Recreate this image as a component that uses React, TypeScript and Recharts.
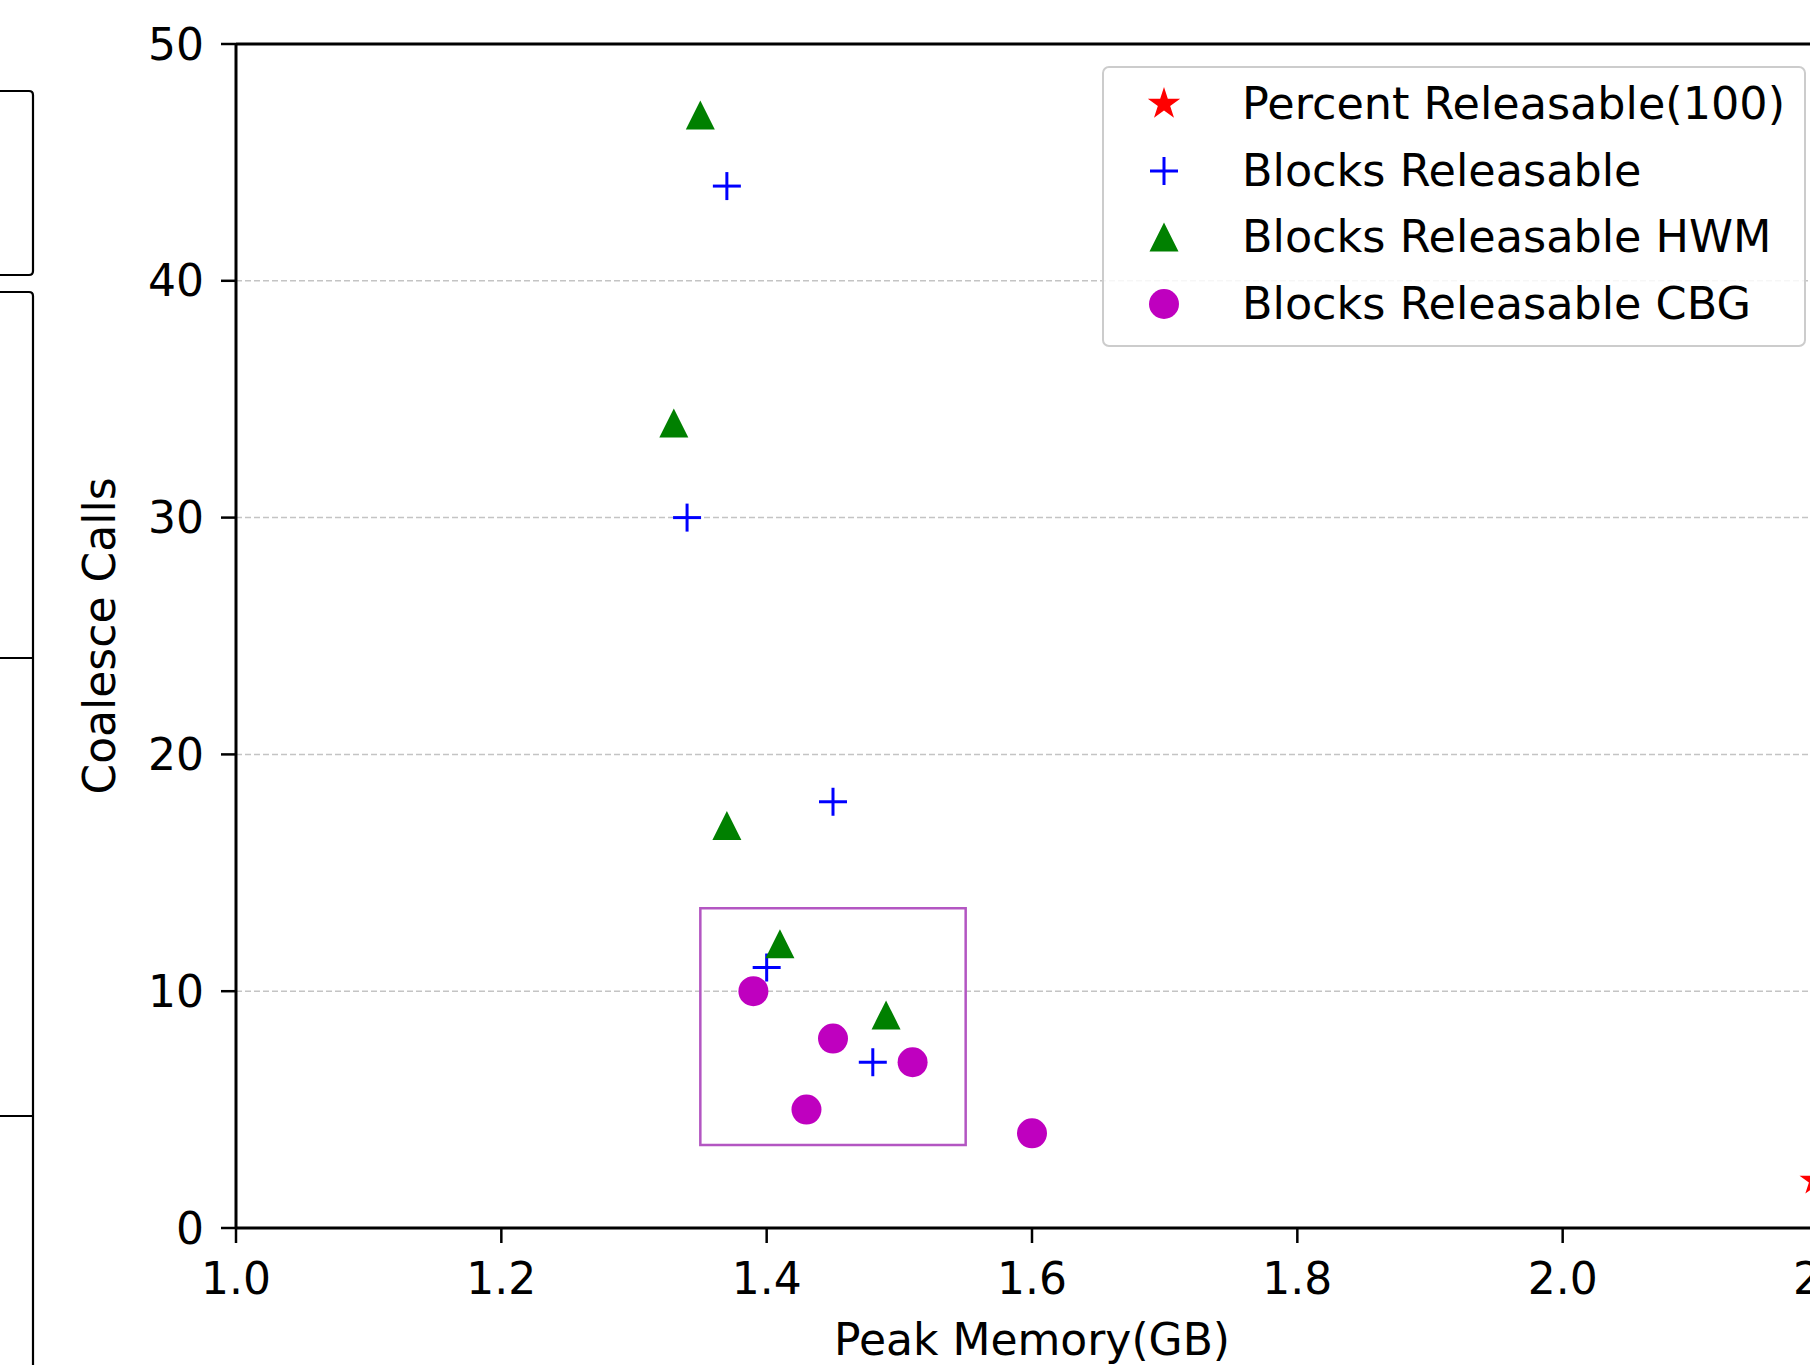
import {
    ScatterChart, Scatter, XAxis, YAxis, CartesianGrid,
    ReferenceArea, ReferenceLine,
} from 'recharts'

// peak memory (GB) / coalesce calls per series
const pctMem = [2.19]
const pctCalls = [2]
const blocksMem = [1.37, 1.34, 1.45, 1.40, 1.48]
const blocksCalls = [44, 30, 18, 11, 7]
const hwmMem = [1.35, 1.33, 1.37, 1.41, 1.49]
const hwmCalls = [47, 34, 17, 12, 9]
const cbgMem = [1.39, 1.45, 1.51, 1.43, 1.60]
const cbgCalls = [10, 8, 7, 5, 4]

const xTicks = [1.0, 1.2, 1.4, 1.6, 1.8, 2.0, 2.2]
const yTicks = [0, 10, 20, 30, 40, 50]

// highlighted cluster
const boxMem = [1.35, 1.55]
const boxCalls = [3.5, 13.5]

const FONT = '"DejaVu Sans", sans-serif'
const FS = 44

const zip = (xs: number[], ys: number[]) => xs.map((x, i) => ({ mem: x, calls: ys[i] }))

type MarkerProps = { cx?: number; cy?: number }

function Star({ cx = 0, cy = 0, r = 16, color = '#ff0000' }: MarkerProps & { r?: number; color?: string }) {
    const pts: string[] = []
    for (let i = 0; i < 10; i++) {
        const rad = i % 2 === 0 ? r : r * 0.382
        const a = -Math.PI / 2 + (i * Math.PI) / 5
        pts.push(`${cx + rad * Math.cos(a)},${cy + rad * Math.sin(a)}`)
    }
    return <polygon points={pts.join(' ')} fill={color} />
}

function Plus({ cx = 0, cy = 0 }: MarkerProps) {
    const h = 14
    return (
        <g stroke="#0000ff" strokeWidth={3}>
            <line x1={cx - h} y1={cy} x2={cx + h} y2={cy} />
            <line x1={cx} y1={cy - h} x2={cx} y2={cy + h} />
        </g>
    )
}

function Tri({ cx = 0, cy = 0 }: MarkerProps) {
    const h = 14.5
    return <polygon points={`${cx},${cy - h} ${cx - h},${cy + h} ${cx + h},${cy + h}`} fill="#008000" />
}

function Dot({ cx = 0, cy = 0 }: MarkerProps) {
    return <circle cx={cx} cy={cy} r={15} fill="#bf00bf" />
}

const SERIES = [
    { name: 'Percent Releasable(100)', icon: (x: number, y: number) => <Star cx={x} cy={y} r={17} /> },
    { name: 'Blocks Releasable', icon: (x: number, y: number) => <Plus cx={x} cy={y} /> },
    { name: 'Blocks Releasable HWM', icon: (x: number, y: number) => <Tri cx={x} cy={y} /> },
    { name: 'Blocks Releasable CBG', icon: (x: number, y: number) => <Dot cx={x} cy={y} /> },
]

function LegendBox() {
    return (
        <div style={{
            position: 'absolute', left: 1102, top: 66, width: 700, height: 274,
            border: '2px solid #cccccc', borderRadius: 7, background: 'rgba(255,255,255,0.85)',
            fontFamily: FONT, fontSize: 44.5, color: '#000', paddingTop: 3, boxSizing: 'content-box',
        }}>
            {SERIES.map(s => (
                <div key={s.name} style={{ height: 66.5, display: 'flex', alignItems: 'center' }}>
                    <svg width={138} height={66} style={{ flex: 'none' }}>
                        {s.icon(60, 33)}
                    </svg>
                    <span style={{ whiteSpace: 'nowrap', lineHeight: 1 }}>{s.name}</span>
                </div>
            ))}
        </div>
    )
}

// edge of the neighbouring panel, cropped in the original figure
function LeftEdge() {
    return (
        <svg width={40} height={1365} style={{ position: 'absolute', left: 0, top: 0 }}>
            <g stroke="#000" strokeWidth={2.2} fill="none">
                <path d="M0 91 H29 Q33 91 33 95 V271 Q33 275 29 275 H0" />
                <path d="M0 292 H29 Q33 292 33 296 V1365" />
                <line x1={0} y1={658} x2={33} y2={658} />
                <line x1={0} y1={1116} x2={33} y2={1116} />
            </g>
        </svg>
    )
}

const tickStyle = { fontSize: FS, fill: '#000', fontFamily: FONT }

export default function App() {
    return (
        <div style={{
            position: 'absolute', left: 0, top: 0, width: 1810, height: 1365,
            overflow: 'hidden', background: '#fff', fontFamily: FONT,
        }}>
            <LeftEdge />
            <ScatterChart width={1900} height={1365} margin={{ top: 44, right: 72, left: 0, bottom: 0 }}>
                <CartesianGrid vertical={false} stroke="#c4c4c4" strokeWidth={1.5} strokeDasharray="6 3" />
                <XAxis
                    type="number" dataKey="mem" domain={[1.0, 2.2]} ticks={xTicks} allowDataOverflow
                    tickFormatter={(v: number) => v.toFixed(1)} height={137}
                    axisLine={{ stroke: '#000', strokeWidth: 3 }}
                    tickLine={{ stroke: '#000', strokeWidth: 2.5 }} tickSize={15} tickMargin={20}
                    tick={tickStyle}
                    label={{
                        content: ({ viewBox }: any) => (
                            <text x={viewBox.x + viewBox.width / 2} y={1355} textAnchor="middle"
                                fontSize={FS} fontFamily={FONT} fill="#000">Peak Memory(GB)</text>
                        ),
                    }}
                />
                <YAxis
                    type="number" dataKey="calls" domain={[0, 50]} ticks={yTicks} allowDataOverflow width={236}
                    axisLine={{ stroke: '#000', strokeWidth: 3 }}
                    tickLine={{ stroke: '#000', strokeWidth: 2.5 }} tickSize={15} tickMargin={17}
                    tick={tickStyle}
                    label={{
                        content: ({ viewBox }: any) => {
                            const cy = viewBox.y + viewBox.height / 2
                            return (
                                <text x={99} y={cy} transform={`rotate(-90 99 ${cy})`} textAnchor="middle"
                                    dominantBaseline="central" fontSize={FS} fontFamily={FONT} fill="#000">
                                    Coalesce Calls
                                </text>
                            )
                        },
                    }}
                />
                <ReferenceLine y={50} stroke="#000" strokeWidth={3} />
                <Scatter name={SERIES[0].name} data={zip(pctMem, pctCalls)} isAnimationActive={false}
                    shape={(p: any) => <Star cx={p.cx} cy={p.cy} />} />
                <Scatter name={SERIES[1].name} data={zip(blocksMem, blocksCalls)} isAnimationActive={false}
                    shape={(p: any) => <Plus cx={p.cx} cy={p.cy} />} />
                <Scatter name={SERIES[2].name} data={zip(hwmMem, hwmCalls)} isAnimationActive={false}
                    shape={(p: any) => <Tri cx={p.cx} cy={p.cy} />} />
                <Scatter name={SERIES[3].name} data={zip(cbgMem, cbgCalls)} isAnimationActive={false}
                    shape={(p: any) => <Dot cx={p.cx} cy={p.cy} />} />
                <ReferenceArea x1={boxMem[0]} x2={boxMem[1]} y1={boxCalls[0]} y2={boxCalls[1]}
                    fill="none" stroke="#b356c2" strokeWidth={2.5} />
            </ScatterChart>
            <LegendBox />
        </div>
    )
}
